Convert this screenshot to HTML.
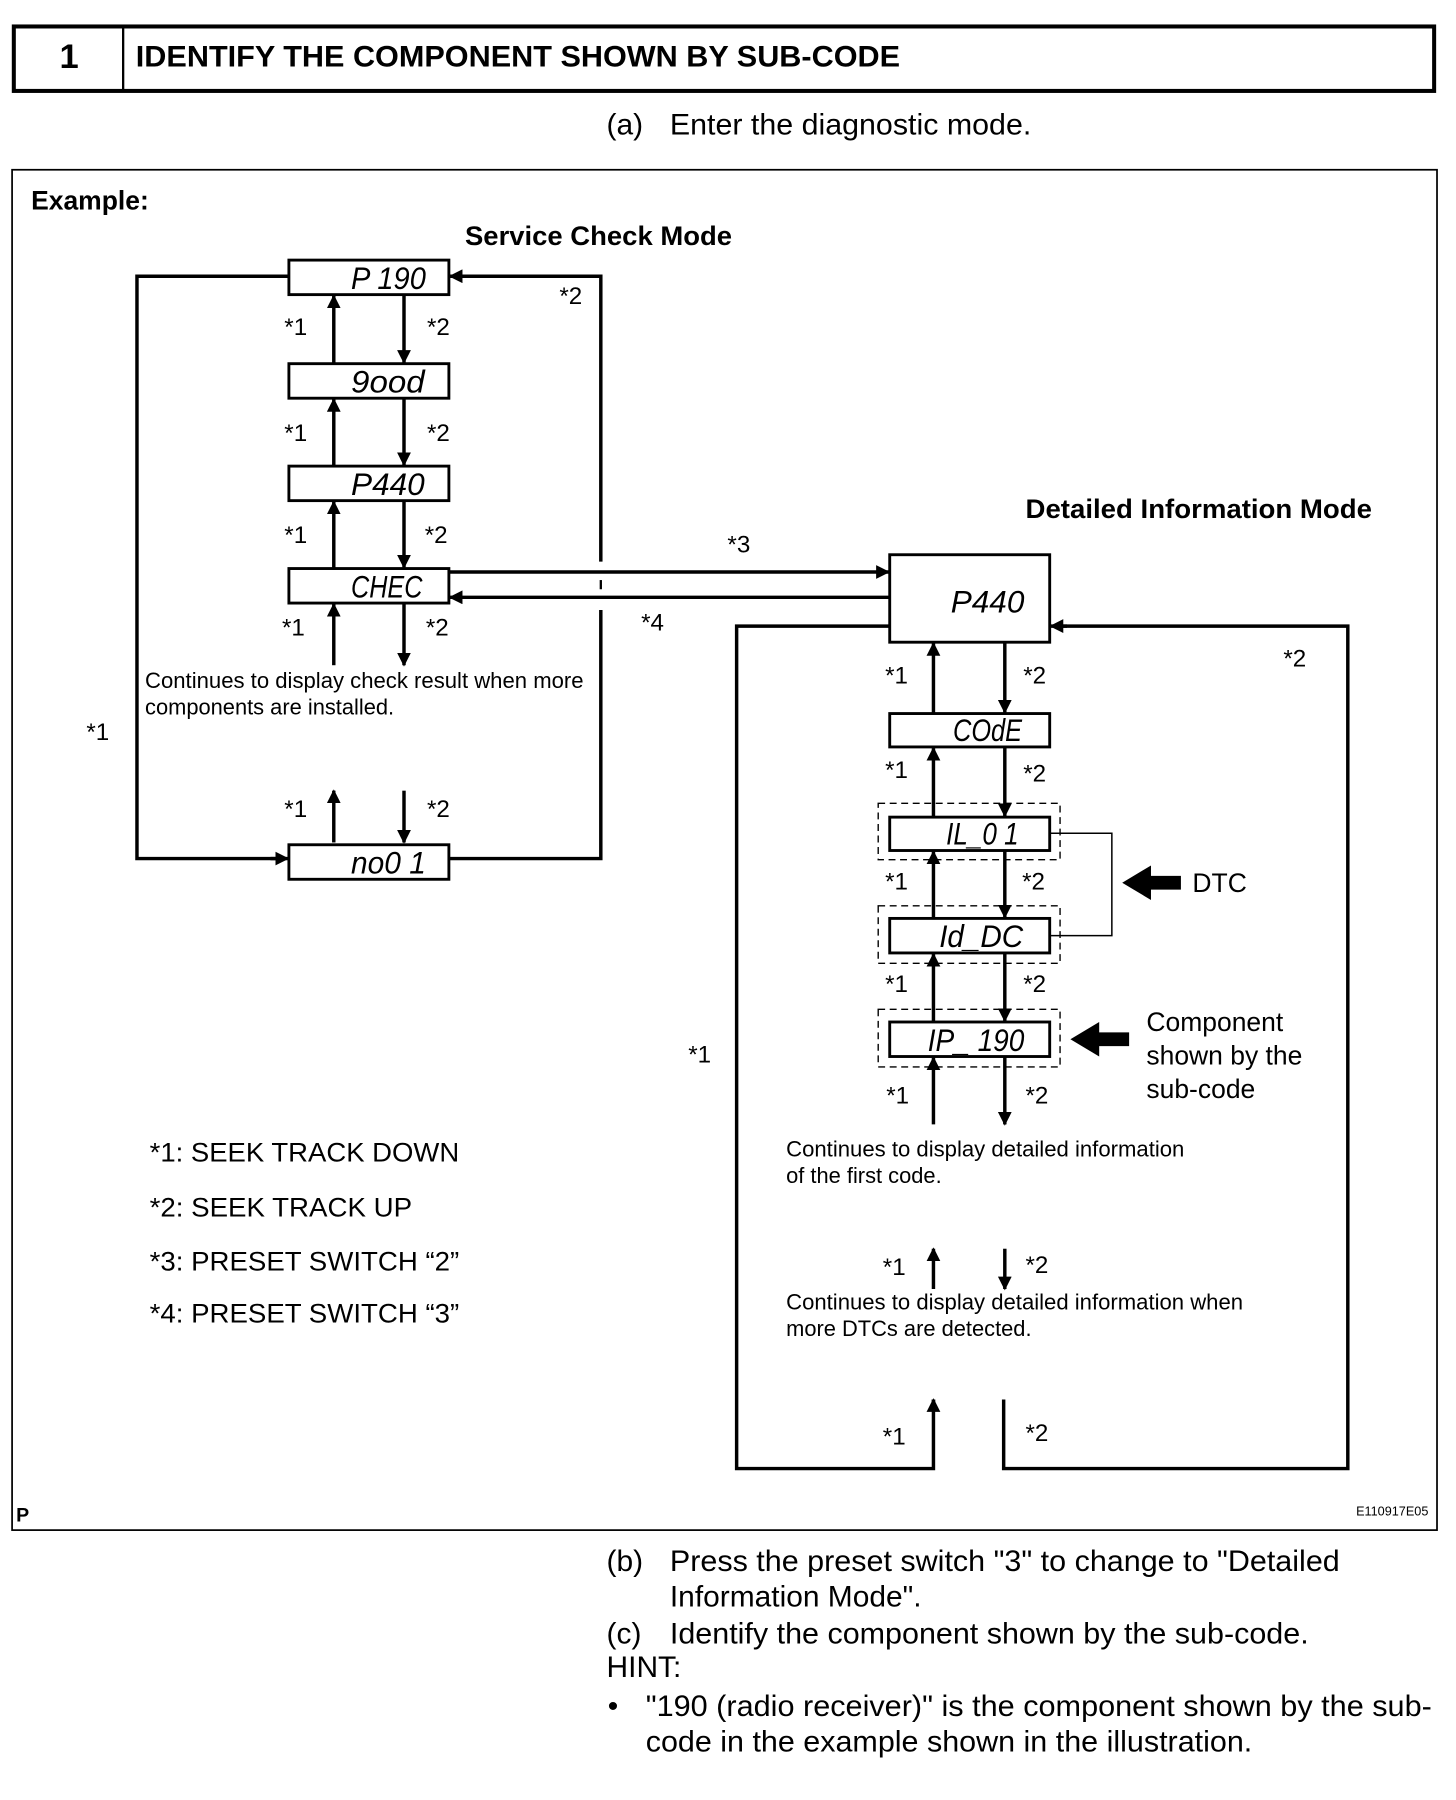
<!DOCTYPE html>
<html><head><meta charset="utf-8"><style>
html,body{margin:0;padding:0;background:#fff}
svg{display:block}
text{font-family:"Liberation Sans",sans-serif;fill:#000}
.b{font-weight:bold}
.seg{font-family:"Liberation Sans",sans-serif;font-style:italic;font-size:27px}
.s{font-size:21px}
.m{font-size:19px}
.l{font-size:23px}
.t{font-size:26px}
</style></head><body>
<svg width="1456" height="1800" viewBox="0 0 1265 1564" preserveAspectRatio="none" xmlns="http://www.w3.org/2000/svg">
<defs>
<marker id="a" markerWidth="4" markerHeight="4" refX="3.6" refY="2" orient="auto" markerUnits="strokeWidth"><path d="M0,0 L4,2 L0,4 z" fill="#000"/></marker>
</defs>
<g stroke="#000" fill="none">
<rect x="12" y="23" width="1234" height="56" stroke-width="3.5"/>
<line x1="107" y1="23" x2="107" y2="79" stroke-width="2"/>
<rect x="10.5" y="147.5" width="1238" height="1182" stroke-width="1.5"/>
</g>
<text x="60" y="59" class="b" font-size="30" text-anchor="middle">1</text>
<text x="118" y="58" class="b" font-size="26" textLength="664" lengthAdjust="spacingAndGlyphs">IDENTIFY THE COMPONENT SHOWN BY SUB-CODE</text>
<text x="527" y="117" class="t">(a)</text><text x="582" y="117" class="t" textLength="314" lengthAdjust="spacingAndGlyphs">Enter the diagnostic mode.</text>
<text x="27" y="182" class="b" font-size="23">Example:</text>
<text x="404" y="213" class="b" font-size="23" textLength="232" lengthAdjust="spacingAndGlyphs">Service Check Mode</text>
<text x="891" y="450" class="b" font-size="23" textLength="301" lengthAdjust="spacingAndGlyphs">Detailed Information Mode</text>
<text x="14" y="1322" class="b" font-size="17">P</text>
<text x="1241" y="1317" font-size="11" text-anchor="end">E110917E05</text>

<g stroke="#000" stroke-width="2.5" fill="#fff">
<rect x="251" y="226" width="139" height="30"/>
<rect x="251" y="316" width="139" height="30"/>
<rect x="251" y="405" width="139" height="30"/>
<rect x="251" y="494" width="139" height="30"/>
<rect x="251" y="734" width="139" height="30"/>
<rect x="773" y="482" width="139" height="76"/>
<rect x="773" y="620" width="139" height="29"/>
<rect x="773" y="710" width="139" height="29"/>
<rect x="773" y="798" width="139" height="30"/>
<rect x="773" y="888" width="139" height="30"/>
</g>
<g stroke="#000" stroke-width="1.2" fill="none" stroke-dasharray="6,4">
<rect x="763" y="698" width="158" height="49"/>
<rect x="763" y="787" width="158" height="50"/>
<rect x="763" y="877" width="158" height="50"/>
</g>
<path d="M912,724 H966 V813 H912" stroke="#000" stroke-width="1.3" fill="none"/>

<g class="seg">
<text x="305" y="251" textLength="65" lengthAdjust="spacingAndGlyphs">P 190</text>
<text x="305" y="341" textLength="64" lengthAdjust="spacingAndGlyphs">9ood</text>
<text x="305" y="430" textLength="64" lengthAdjust="spacingAndGlyphs">P440</text>
<text x="305" y="519" textLength="62" lengthAdjust="spacingAndGlyphs">CHEC</text>
<text x="305" y="759" textLength="65" lengthAdjust="spacingAndGlyphs">no0 1</text>
<text x="826" y="532" textLength="64" lengthAdjust="spacingAndGlyphs">P440</text>
<text x="828" y="644" textLength="60" lengthAdjust="spacingAndGlyphs">COdE</text>
<text x="822" y="734" textLength="63" lengthAdjust="spacingAndGlyphs">IL_0 1</text>
<text x="816" y="823" textLength="73" lengthAdjust="spacingAndGlyphs">Id_DC</text>
<text x="806" y="913" textLength="84" lengthAdjust="spacingAndGlyphs">IP_ 190</text>
</g>

<g stroke="#000" stroke-width="3" fill="none">
<polyline points="251,240 119,240 119,746 240,746"/>
<polyline points="390,746 522,746 522,530"/>
<polyline points="522,488 522,240 400,240"/>
<polyline points="773,544 640,544 640,1276 811,1276 811,1216"/>
<polyline points="872,1216 872,1276 1171,1276 1171,544 922,544"/>
</g>
<g stroke="#000" stroke-width="3" fill="none" marker-end="url(#a)">
<line x1="290" y1="316" x2="290" y2="257"/><line x1="351" y1="256" x2="351" y2="315"/>
<line x1="290" y1="405" x2="290" y2="347"/><line x1="351" y1="346" x2="351" y2="404"/>
<line x1="290" y1="494" x2="290" y2="436"/><line x1="351" y1="435" x2="351" y2="493"/>
<line x1="290" y1="578" x2="290" y2="525"/><line x1="351" y1="524" x2="351" y2="578"/>
<line x1="290" y1="732" x2="290" y2="687"/><line x1="351" y1="687" x2="351" y2="732"/>
<line x1="235" y1="746" x2="250" y2="746"/>
<line x1="405" y1="240" x2="391" y2="240"/>
<line x1="927" y1="544" x2="913" y2="544"/>
<line x1="811" y1="1225" x2="811" y2="1216"/>
<line x1="390" y1="497" x2="772" y2="497"/>
<line x1="773" y1="519" x2="391" y2="519"/>
<line x1="811" y1="620" x2="811" y2="559"/><line x1="873" y1="558" x2="873" y2="619"/>
<line x1="811" y1="710" x2="811" y2="650"/><line x1="873" y1="649" x2="873" y2="709"/>
<line x1="811" y1="798" x2="811" y2="740"/><line x1="873" y1="739" x2="873" y2="797"/>
<line x1="811" y1="888" x2="811" y2="829"/><line x1="873" y1="828" x2="873" y2="887"/>
<line x1="811" y1="977" x2="811" y2="919"/><line x1="873" y1="918" x2="873" y2="977"/>
<line x1="811" y1="1120" x2="811" y2="1085"/><line x1="873" y1="1085" x2="873" y2="1120"/>
</g>
<line x1="522" y1="504" x2="522" y2="512" stroke="#000" stroke-width="2"/>
<polygon points="975,767 1000,752 1000,761 1026,761 1026,773 1000,773 1000,782" fill="#000"/>
<polygon points="930,903 955,888 955,897 981,897 981,909 955,909 955,918" fill="#000"/>

<g class="s">
<text x="247" y="291">*1</text><text x="371" y="291">*2</text>
<text x="247" y="383">*1</text><text x="371" y="383">*2</text>
<text x="247" y="472">*1</text><text x="369" y="472">*2</text>
<text x="245" y="552">*1</text><text x="370" y="552">*2</text>
<text x="247" y="710">*1</text><text x="371" y="710">*2</text>
<text x="486" y="264">*2</text>
<text x="75" y="643">*1</text>
<text x="632" y="480">*3</text>
<text x="557" y="548">*4</text>
<text x="769" y="594">*1</text><text x="889" y="594">*2</text>
<text x="769" y="676">*1</text><text x="889" y="679">*2</text>
<text x="769" y="773">*1</text><text x="888" y="773">*2</text>
<text x="769" y="862">*1</text><text x="889" y="862">*2</text>
<text x="770" y="959">*1</text><text x="891" y="959">*2</text>
<text x="767" y="1108">*1</text><text x="891" y="1106">*2</text>
<text x="767" y="1255">*1</text><text x="891" y="1252">*2</text>
<text x="1115" y="579">*2</text>
<text x="598" y="923">*1</text>
</g>
<text x="126" y="598" class="m" textLength="381" lengthAdjust="spacingAndGlyphs">Continues to display check result when more</text>
<text x="126" y="621" class="m">components are installed.</text>
<text x="683" y="1005" class="m" textLength="346" lengthAdjust="spacingAndGlyphs">Continues to display detailed information</text>
<text x="683" y="1028" class="m">of the first code.</text>
<text x="683" y="1138" class="m" textLength="397" lengthAdjust="spacingAndGlyphs">Continues to display detailed information when</text>
<text x="683" y="1161" class="m">more DTCs are detected.</text>
<text x="1036" y="775" class="l">DTC</text>
<text x="996" y="896" class="l">Component</text>
<text x="996" y="925" class="l">shown by the</text>
<text x="996" y="954" class="l">sub-code</text>
<text x="130" y="1009" class="l" textLength="269" lengthAdjust="spacingAndGlyphs">*1: SEEK TRACK DOWN</text>
<text x="130" y="1057" class="l" textLength="228" lengthAdjust="spacingAndGlyphs">*2: SEEK TRACK UP</text>
<text x="130" y="1104" class="l" textLength="269" lengthAdjust="spacingAndGlyphs">*3: PRESET SWITCH “2”</text>
<text x="130" y="1149" class="l" textLength="269" lengthAdjust="spacingAndGlyphs">*4: PRESET SWITCH “3”</text>

<g class="t">
<text x="527" y="1365">(b)</text><text x="582" y="1365" textLength="582" lengthAdjust="spacingAndGlyphs">Press the preset switch "3" to change to "Detailed</text>
<text x="582" y="1396">Information Mode".</text>
<text x="527" y="1428">(c)</text><text x="582" y="1428" textLength="555" lengthAdjust="spacingAndGlyphs">Identify the component shown by the sub-code.</text>
<text x="527" y="1457">HINT:</text>
<text x="528" y="1491">•</text><text x="561" y="1491" textLength="683" lengthAdjust="spacingAndGlyphs">"190 (radio receiver)" is the component shown by the sub-</text>
<text x="561" y="1522" textLength="527" lengthAdjust="spacingAndGlyphs">code in the example shown in the illustration.</text>
</g>
</svg>
</body></html>
